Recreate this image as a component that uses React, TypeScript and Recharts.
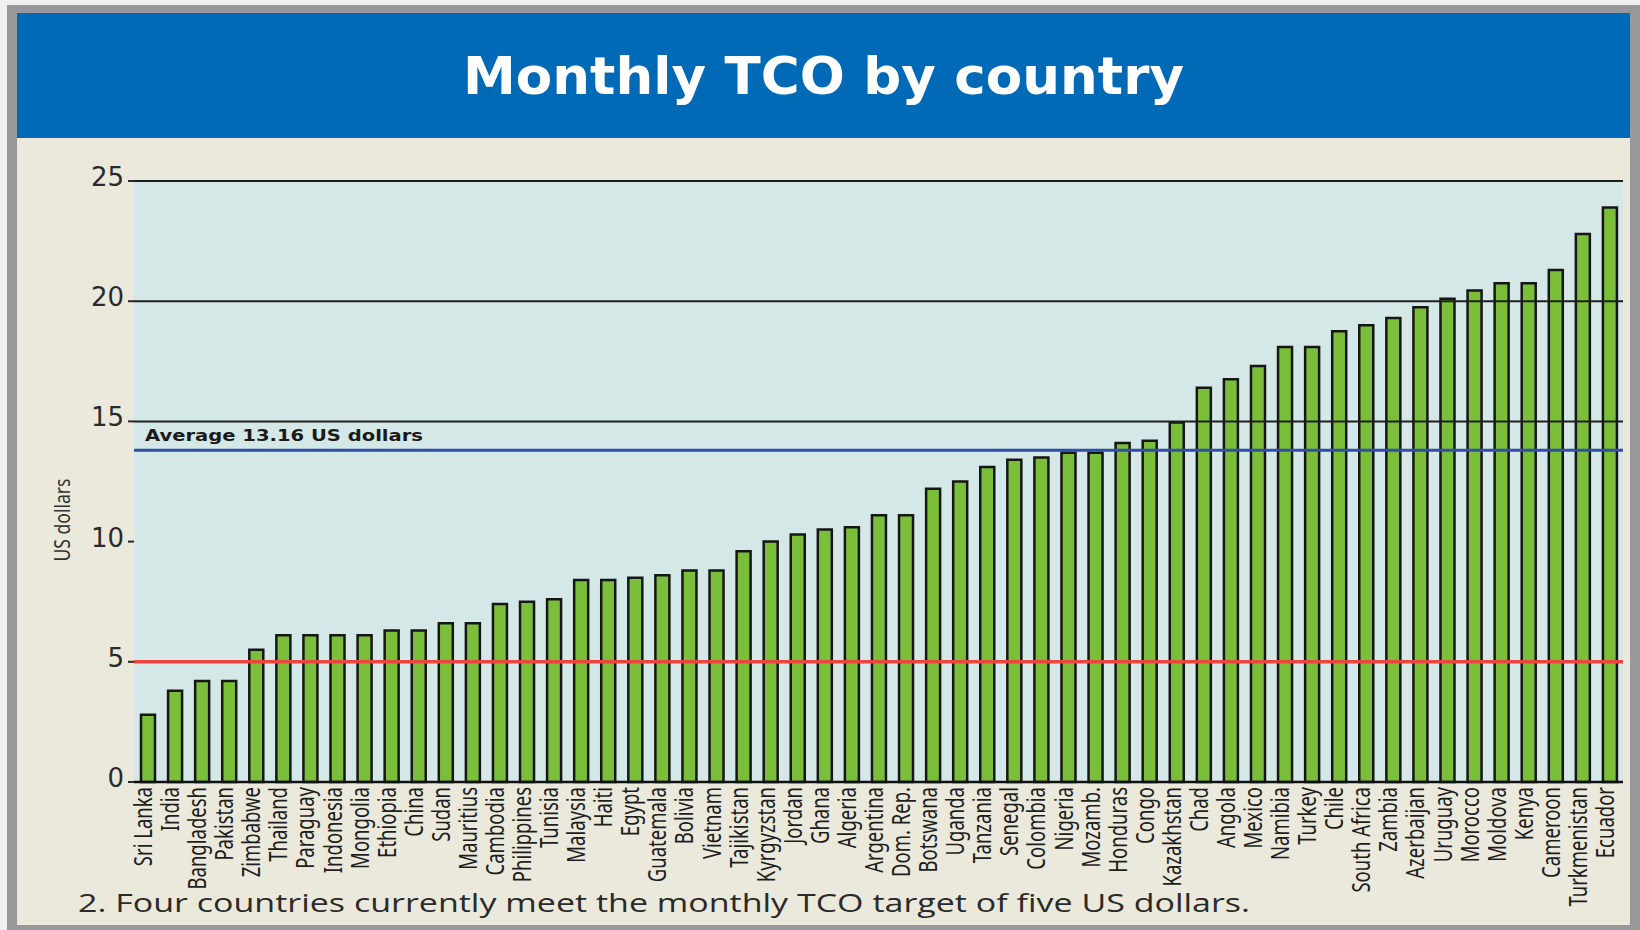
import React from "react";
import { BarChart, Bar, XAxis, YAxis, CartesianGrid, ReferenceLine } from "recharts";

const countries = [
  "Sri Lanka", "India", "Bangladesh", "Pakistan", "Zimbabwe", "Thailand", "Paraguay", "Indonesia",
  "Mongolia", "Ethiopia", "China", "Sudan", "Mauritius", "Cambodia", "Philippines", "Tunisia",
  "Malaysia", "Haiti", "Egypt", "Guatemala", "Bolivia", "Vietnam", "Tajikistan", "Kyrgyzstan",
  "Jordan", "Ghana", "Algeria", "Argentina", "Dom. Rep.", "Botswana", "Uganda", "Tanzania",
  "Senegal", "Colombia", "Nigeria", "Mozamb.", "Honduras", "Congo", "Kazakhstan", "Chad",
  "Angola", "Mexico", "Namibia", "Turkey", "Chile", "South Africa", "Zambia", "Azerbaijan",
  "Uruguay", "Morocco", "Moldova", "Kenya", "Cameroon", "Turkmenistan", "Ecuador",
];

const tcoValues = [
  2.8, 3.8, 4.2, 4.2, 5.5, 6.1, 6.1, 6.1,
  6.1, 6.3, 6.3, 6.6, 6.6, 7.4, 7.5, 7.6,
  8.4, 8.4, 8.5, 8.6, 8.8, 8.8, 9.6, 10.0,
  10.3, 10.5, 10.6, 11.1, 11.1, 12.2, 12.5, 13.1,
  13.4, 13.5, 13.7, 13.7, 14.1, 14.2, 14.95, 16.4,
  16.75, 17.3, 18.1, 18.1, 18.75, 19.0, 19.3, 19.75,
  20.1, 20.45, 20.75, 20.75, 21.3, 22.8, 23.9,
];

const yTicks = [0, 5, 10, 15, 20, 25];
const gridValues = [15, 20, 25];
const targetValue = 5;
const averageLineValue = 13.8;
const averageLabel = "Average 13.16 US dollars";
const titleText = "Monthly TCO by country";
const captionText = "2. Four countries currently meet the monthly TCO target of five US dollars.";
const yAxisTitle = "US dollars";

const data = countries.map((country, i) => ({ country, tco: tcoValues[i] }));

const XTick = (props: any) => {
  const { x, y, payload } = props;
  return (
    <g transform={`translate(${x + 4.5},${y + 5}) rotate(-90) scale(1,1.36)`}>
      <text x={0} y={0} textAnchor="end" fontFamily="'Noto Sans', sans-serif" fontSize={18.5} fill="#1e1e1e">
        {payload.value}
      </text>
    </g>
  );
};

const YTick = (props: any) => {
  const { x, y, payload } = props;
  return (
    <text x={x} y={y} dy={5} textAnchor="end" fontFamily="'DejaVu Sans', sans-serif" fontSize={26} fill="#2a2a2a">
      {payload.value}
    </text>
  );
};

const AvgLabel = (props: any) => {
  const vb = props.viewBox || {};
  const x = (vb.x ?? 0) + 11;
  const y = (vb.y ?? 0) - 9.5;
  return (
    <text
      x={x}
      y={y}
      fontFamily="'DejaVu Sans', sans-serif"
      fontWeight="bold"
      fontSize={15.5}
      fill="#1a1a1a"
      textLength={278}
      lengthAdjust="spacingAndGlyphs"
    >
      {averageLabel}
    </text>
  );
};

export default function App() {
  return (
    <div style={{ position: "absolute", left: 0, top: 0, width: 1640, height: 930, background: "#f0f0f0", overflow: "hidden" }}>
      <svg width={1640} height={930} style={{ position: "absolute", left: 0, top: 0 }}>
        <rect x={7} y={5} width={1633} height={925} fill="#98989c" />
        <rect x={17} y={13} width={1613} height={125} fill="#006ab6" />
        <rect x={17} y={138} width={1613} height={787} fill="#ebe9dc" />
        <text
          x={823.5}
          y={94}
          textAnchor="middle"
          fontFamily="'DejaVu Sans', sans-serif"
          fontWeight="bold"
          fontSize={52}
          fill="#ffffff"
          textLength={721}
          lengthAdjust="spacingAndGlyphs"
        >
          {titleText}
        </text>
        <text
          x={78}
          y={912}
          fontFamily="'Open Sans', sans-serif"
          fontSize={26}
          fill="#2a2a2a"
          textLength={1172}
          lengthAdjust="spacingAndGlyphs"
        >
          {captionText}
        </text>
        <text
          transform="translate(70,520) rotate(-90)"
          textAnchor="middle"
          fontFamily="'Noto Sans', sans-serif"
          fontSize={22}
          fill="#333333"
          textLength={83}
          lengthAdjust="spacingAndGlyphs"
        >
          {yAxisTitle}
        </text>
      </svg>
      <div style={{ position: "absolute", left: 17, top: 138 }}>
        <BarChart
          width={1613}
          height={792}
          data={data}
          margin={{ top: 43, right: 7, bottom: 0, left: 0 }}
          barCategoryGap={0}
        >
          <CartesianGrid fill="#d4e8e7" fillOpacity={1} horizontal={false} vertical={false} />
          <XAxis
            dataKey="country"
            interval={0}
            height={148}
            tickLine={false}
            tickSize={0}
            tickMargin={0}
            axisLine={{ stroke: "#111111", strokeWidth: 2.5 }}
            tick={<XTick />}
          />
          <YAxis
            width={117}
            domain={[0, 25]}
            ticks={yTicks}
            interval={0}
            axisLine={false}
            tickSize={6}
            tickMargin={4}
            tickLine={{ stroke: "#2a2a2a", strokeWidth: 2 }}
            tick={<YTick />}
          />
          <Bar
            dataKey="tco"
            fill="#7abe3a"
            stroke="#161616"
            strokeWidth={2.5}
            barSize={14}
            isAnimationActive={false}
          />
          {gridValues.map((v) => (
            <ReferenceLine key={v} y={v} stroke="#1e1e1e" strokeWidth={2} />
          ))}
          <ReferenceLine y={targetValue} stroke="#ec4540" strokeWidth={3.5} />
          <ReferenceLine y={averageLineValue} stroke="#2f4fa8" strokeWidth={3} label={AvgLabel} />
        </BarChart>
      </div>
    </div>
  );
}
